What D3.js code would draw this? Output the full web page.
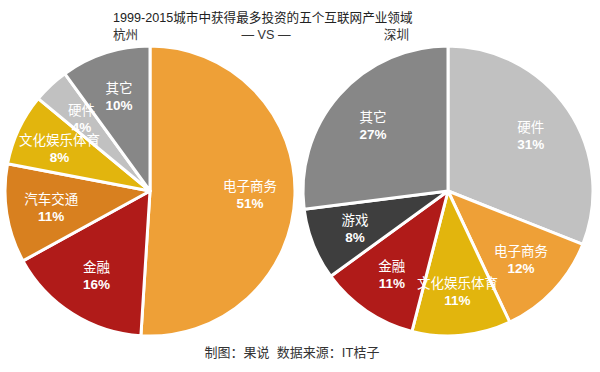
<!DOCTYPE html>
<html>
<head>
<meta charset="utf-8">
<script src="https://cdn.jsdelivr.net/npm/d3@7"></script>
<style>
  body { margin: 0; background: #fff; }
  text { font-family: "Liberation Sans", "Noto Sans CJK SC", sans-serif; }
</style>
</head>
<body>
<script>
// Hangzhou, clockwise from 12 o'clock
const hzNames = ["电子商务", "金融", "汽车交通", "文化娱乐体育", "硬件", "其它"];
const hzValues = [51, 16, 11, 8, 4, 10];
// Shenzhen, clockwise from 12 o'clock
const szNames = ["硬件", "电子商务", "文化娱乐体育", "金融", "游戏", "其它"];
const szValues = [31, 12, 11, 11, 8, 27];

const colors = {
    "电子商务": "#eea037",
    "金融": "#b01b19",
    "汽车交通": "#d8801f",
    "文化娱乐体育": "#e2b50d",
    "硬件": "#c1c1c1",
    "其它": "#878787",
    "游戏": "#3e3e3e"
};

var w = 600;
var h = 372;
var radius = 145;

var svg = d3.select('body')
    .append('svg')
    .attr("width", w)
    .attr("height", h);

svg.append("text")
    .attr("x", 113).attr("y", 22)
    .attr("font-size", 12.6)
    .attr("fill", "#222")
    .text("1999-2015城市中获得最多投资的五个互联网产业领域");

svg.append("text")
    .attr("x", 113).attr("y", 39)
    .attr("font-size", 12.6)
    .attr("fill", "#333")
    .text("杭州");

svg.append("text")
    .attr("x", 266).attr("y", 39)
    .attr("text-anchor", "middle")
    .attr("font-size", 12.6)
    .attr("fill", "#333")
    .text("— VS —");

svg.append("text")
    .attr("x", 409).attr("y", 39)
    .attr("text-anchor", "end")
    .attr("font-size", 12.6)
    .attr("fill", "#333")
    .text("深圳");

svg.append("text")
    .attr("x", 292).attr("y", 357)
    .attr("text-anchor", "middle")
    .attr("font-size", 13)
    .attr("fill", "#333")
    .attr("xml:space", "preserve")
    .text("制图：果说  数据来源：IT桔子");

var pie = d3.pie().sort(null).value(function (d) { return d.value });
var arc = d3.arc().innerRadius(0).outerRadius(radius);
var labelArc = d3.arc().innerRadius(100).outerRadius(100);

function drawPie(names, values, cx, cy) {
    var data = names.map(function (n, i) { return { name: n, value: values[i] } });
    var g = svg.append('g').attr("transform", "translate(" + cx + "," + cy + ")");

    g.selectAll('.slice')
        .data(pie(data))
        .enter()
        .append('path')
        .attr("d", arc)
        .attr("fill", function (d) { return colors[d.data.name] })
        .attr("stroke", "#fff")
        .attr("stroke-width", 3)
        .attr("stroke-linejoin", "round");

    var labels = g.selectAll('.lbl')
        .data(pie(data))
        .enter()
        .append('text')
        .attr("transform", function (d) { return "translate(" + labelArc.centroid(d) + ")" })
        .attr("text-anchor", "middle")
        .attr("fill", "#fff")
        .attr("font-size", 13.5);

    labels.append('tspan')
        .attr("x", 0).attr("y", -3)
        .text(function (d) { return d.data.name });

    labels.append('tspan')
        .attr("x", 0).attr("y", 14)
        .attr("font-weight", "bold")
        .text(function (d) { return d.data.value + "%" });
}

drawPie(hzNames, hzValues, 150, 191);
drawPie(szNames, szValues, 448, 191);
</script>
</body>
</html>
